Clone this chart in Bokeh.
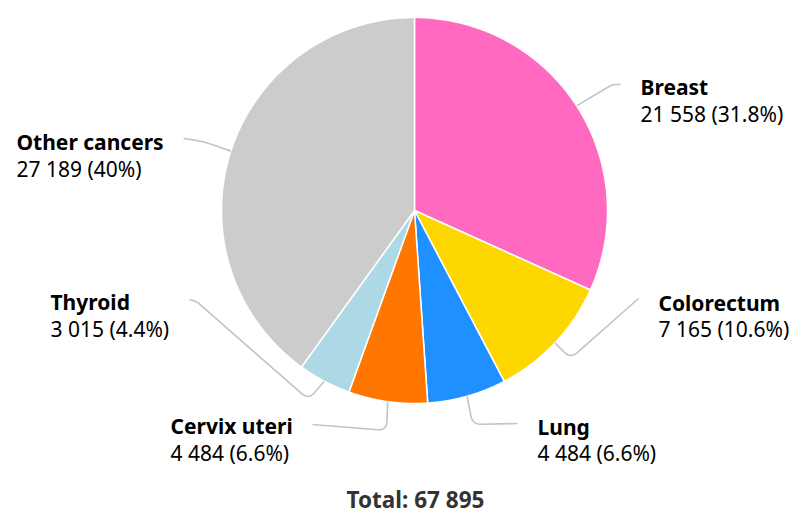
import numpy as np
from bokeh.plotting import figure
from bokeh.models import Range1d
from bokeh.core.properties import value
from bokeh.embed import file_html
from bokeh.resources import INLINE

# ---- data ----
categories = ["Breast", "Colorectum", "Lung", "Cervix uteri", "Thyroid", "Other cancers"]
counts = [21558, 7165, 4484, 4484, 3015, 27189]
colors = ["#ff69c0", "#ffd700", "#1e90ff", "#ff7700", "#add8e6", "#cccccc"]

# ---- layout (pixel coords of page, y downward) ----
CX, CY, R = 414, 210, 193
FONT = value("Noto Sans")
FS = "21px"
DY = -10  # baseline correction for svg text
# label anchor (left x, baseline of first line, baseline of second line)
label_pos = {
    "Breast": (640, 96, 123),
    "Colorectum": (658, 312, 338),
    "Lung": (537, 436, 462),
    "Cervix uteri": (170, 435, 462),
    "Thyroid": (50, 311, 338),
    "Other cancers": (16, 151, 178),
}
# connector bend points after the slice edge point
connector_pts = {
    "Breast": [(612, 84), (620, 84)],
    "Colorectum": [(570, 358), (638, 298)],
    "Lung": [(472, 424), (517, 423)],
    "Cervix uteri": [(386, 430), (312, 424)],
    "Thyroid": [(308, 399), (196, 301), (189, 299)],
    "Other cancers": [(203, 141), (183, 138)],
}


def fmt_int(n):
    return f"{n:,}".replace(",", " ")


def fmt_pct(x):
    s = f"{x:.1f}"
    if s.endswith(".0"):
        s = s[:-2]
    return s + "%"


def rounded(points, d=9, n=12):
    pts = [np.array(p, dtype=float) for p in points]
    xs, ys = [pts[0][0]], [pts[0][1]]
    for i in range(1, len(pts) - 1):
        a, b, c = pts[i - 1], pts[i], pts[i + 1]
        l1 = np.linalg.norm(b - a)
        l2 = np.linalg.norm(c - b)
        dd = min(d, l1 / 2, l2 / 2)
        p1 = b + (a - b) / l1 * dd
        p2 = b + (c - b) / l2 * dd
        for t in np.linspace(0, 1, n):
            q = (1 - t) ** 2 * p1 + 2 * (1 - t) * t * b + t ** 2 * p2
            xs.append(q[0]); ys.append(q[1])
    xs.append(pts[-1][0]); ys.append(pts[-1][1])
    return xs, ys


total = sum(counts)
fr = np.array(counts) / total
ends = np.cumsum(fr) * 2 * np.pi
starts = np.concatenate([[0], ends[:-1]])

p = figure(width=794, height=516, x_range=Range1d(0, 794), y_range=Range1d(516, 0),
           output_backend="svg", toolbar_location=None, min_border=0,
           x_axis_type=None, y_axis_type=None)
p.grid.visible = False
p.outline_line_color = None
p.background_fill_color = "white"
p.border_fill_color = "white"

px, py = [], []
for s, e in zip(starts, ends):
    th = np.linspace(s, e, 200)
    px.append([CX] + list(CX + R * np.sin(th)))
    py.append([CY] + list(CY - R * np.cos(th)))
p.patches(px, py, fill_color=colors, line_color="white", line_width=1.5)

# connectors
cxs, cys = [], []
for cat, s, e in zip(categories, starts, ends):
    m = (s + e) / 2
    ex, ey = CX + R * np.sin(m), CY - R * np.cos(m)
    xs, ys = rounded([(ex, ey)] + connector_pts[cat])
    cxs.append(xs); cys.append(ys)
p.multi_line(cxs, cys, line_color="#c4c4c4", line_width=1.6)

# labels
nx, ny1, ny2, names, vals = [], [], [], [], []
for cat, c, f in zip(categories, counts, fr):
    x, b1, b2 = label_pos[cat]
    nx.append(x); ny1.append(b1 + DY); ny2.append(b2 + DY)
    names.append(cat)
    vals.append(f"{fmt_int(c)} ({fmt_pct(f * 100)})")
p.text(nx, ny1, text=names, text_font=FONT, text_font_size=FS, text_font_style="bold",
       text_color="#000000", text_baseline="alphabetic", text_align="left")
p.text(nx, ny2, text=vals, text_font=FONT, text_font_size=FS,
       text_color="#000000", text_baseline="alphabetic", text_align="left")

p.text([415], [509 + DY], text=[f"Total: {fmt_int(total)}"], text_font=FONT, text_font_size="22.5px",
       text_font_style="bold", text_color="#333333", text_baseline="alphabetic", text_align="center")

open("out.html", "w").write(file_html(p, INLINE))
